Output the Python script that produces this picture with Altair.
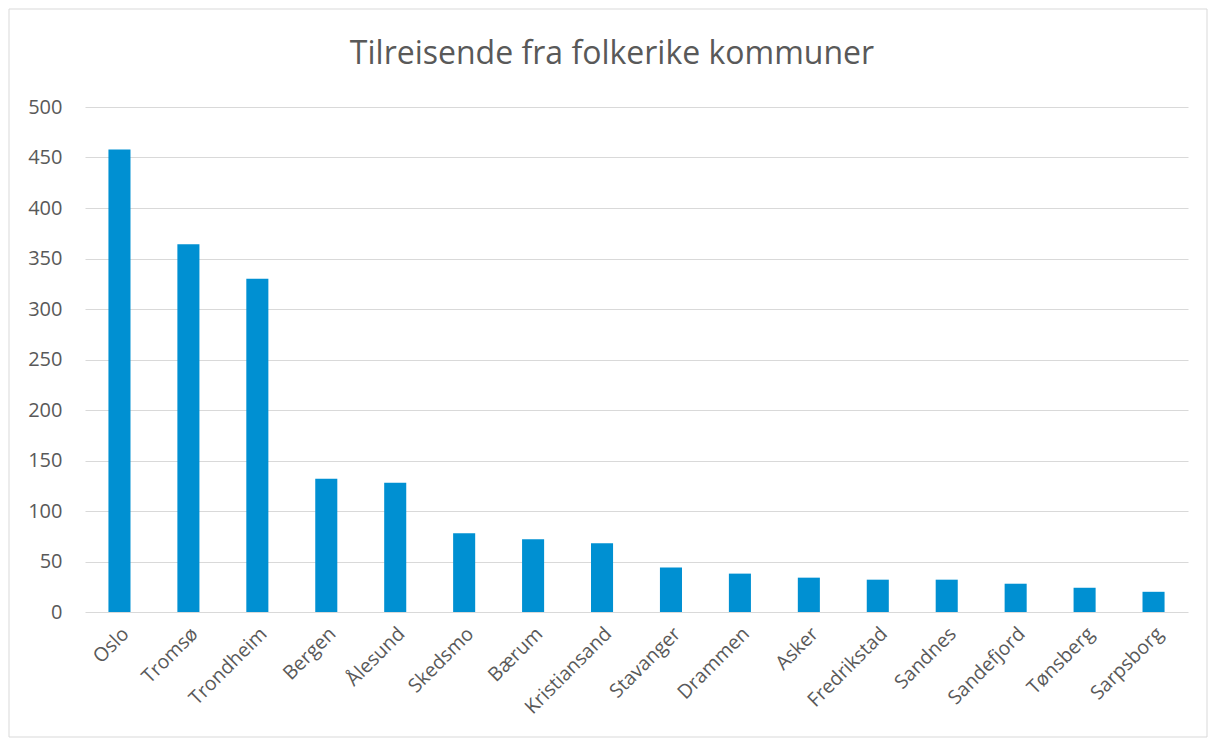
import altair as alt
import pandas as pd

kommuner = ["Oslo", "Tromsø", "Trondheim", "Bergen", "Ålesund", "Skedsmo", "Bærum",
            "Kristiansand", "Stavanger", "Drammen", "Asker", "Fredrikstad", "Sandnes",
            "Sandefjord", "Tønsberg", "Sarpsborg"]
verdier = [458, 364, 330, 132, 128, 78, 72, 68, 44, 38, 34, 32, 32, 28, 24, 20]
y_ticks = [0, 50, 100, 150, 200, 250, 300, 350, 400, 450, 500]
tittel = "Tilreisende fra folkerike kommuner"

df = pd.DataFrame({"kommune": kommuner, "verdi": verdier})

FONT = "Open Sans"
TXT = "#595959"
W, H = 1103, 505

bars = alt.Chart(df).mark_bar(color="#0090d2").encode(
    x=alt.X("kommune:N", sort=kommuner, title=None,
            scale=alt.Scale(paddingInner=0.68, paddingOuter=0.34),
            axis=alt.Axis(labelAngle=-45, labelFont=FONT, labelFontSize=19.5,
                          labelColor=TXT, ticks=False, domain=False, grid=False,
                          labelPadding=12)),
    y=alt.Y("verdi:Q", title=None,
            scale=alt.Scale(domain=[0, 500], nice=False),
            axis=alt.Axis(values=y_ticks, labelFont=FONT, labelFontSize=20,
                          labelColor=TXT, ticks=False, domain=False,
                          gridColor="#d9d9d9", gridWidth=1.2, labelPadding=23)),
)

title_mark = alt.Chart(pd.DataFrame({"t": [tittel]})).mark_text(
    font=FONT, fontSize=32, color=TXT, align="center", baseline="alphabetic"
).encode(text="t:N", x=alt.value(527), y=alt.value(-43))

border = alt.Chart(pd.DataFrame({"a": [0]})).mark_rect(
    fill=None, stroke="#d9d9d9", strokeWidth=1
).encode(x=alt.value(-76), x2=alt.value(1122), y=alt.value(-98), y2=alt.value(630))

chart = alt.layer(border, bars, title_mark).properties(
    width=W, height=H,
    background="white",
    autosize=alt.AutoSizeParams(type="none"),
    padding={"left": 77, "top": 99, "right": 20, "bottom": 126},
).configure_view(stroke=None, strokeWidth=0)

chart.save("out.html", embed_options={"renderer": "svg", "actions": False})
